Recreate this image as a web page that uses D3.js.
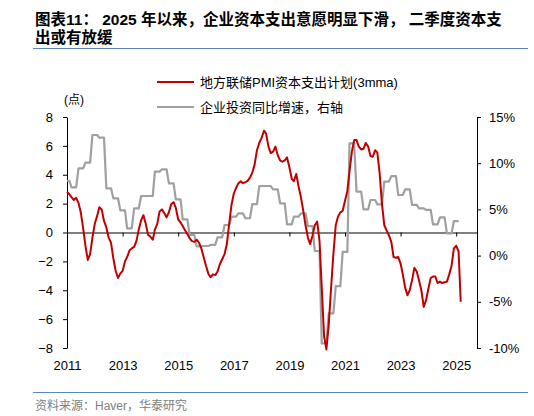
<!DOCTYPE html>
<html>
<head>
<meta charset="utf-8">
<script src="https://cdn.jsdelivr.net/npm/d3@7"></script>
<style>
  body { margin: 0; background: #fff; }
  svg { display: block; font-family: "Liberation Sans", "Noto Sans CJK SC", sans-serif; }
</style>
</head>
<body>
<div id="chart"></div>
<script>
// tick labels
const tickYears  = [2011, 2013, 2015, 2017, 2019, 2021, 2023, 2025];
const leftTicks  = [-8, -6, -4, -2, 0, 2, 4, 6, 8];
const rightTicks = [-10, -5, 0, 5, 10, 15];

// 地方联储PMI资本支出计划(3mma), bulanan 2011-01 .. 2025-03
const capexPlan = [
  2.8, 2.65, 2.45, 2.25, 2.4, 2.05, 1.4, 0.3, -0.95, -1.9, -1.5, -0.35,
  0.6, 1.15, 1.75, 1.6, 0.8, 0.35, -0.35, -0.7, -1.8, -2.65, -3.15, -2.85,
  -2.65, -2.0, -1.7, -1.25, -1.1, -1.0, -0.6, 0.2, 0.85, 1.2, 0.6, -0.15,
  -0.3, -0.5, 0.2, 0.6, 1.45, 1.6, 1.35, 1.05, 1.4, 1.95, 2.1, 1.7,
  0.9, 0.7, 0.45, 0.15, -0.1, -0.4, -0.6, -0.65, -0.5, -0.7, -1.1, -1.7,
  -2.3, -2.85, -3.1, -2.9, -2.95, -2.7, -2.2, -1.85, -1.5, -0.8, 0.6, 1.9,
  2.7, 3.1, 3.4, 3.55, 3.42, 3.48, 3.58, 3.8, 4.15, 4.7, 5.7, 6.2,
  6.55, 7.05, 6.85, 5.95, 5.5, 5.6, 5.95, 5.35, 5.0, 4.9, 5.0, 5.2,
  4.52, 3.72, 3.55, 4.05, 3.2, 2.45, 1.55, 0.5, -0.35, -0.8, -0.2, 0.5,
  0.75, -0.6, -3.8, -7.2, -8.1, -6.4, -3.9, -1.5, 0.5, 1.1, 1.4, 1.5,
  2.2, 2.9, 4.25, 5.6, 6.4, 6.4, 5.95, 5.75, 5.8, 6.2, 5.95, 5.3,
  5.25, 5.7, 5.55, 4.1, 2.0, 0.5, 0.15, -0.2, -0.65, -1.7, -1.75, -1.7,
  -2.15, -2.95, -3.8, -4.35, -4.0, -3.3, -2.45, -2.7, -3.35, -4.0, -5.15, -4.7,
  -3.9, -3.15, -3.05, -3.05, -3.5, -3.4, -3.5, -3.45, -3.4, -2.9, -2.3, -1.1,
  -0.92, -1.3, -4.8
];

// 企业投资同比增速 (%), kuartalan 2011Q1 .. 2025Q1
const investYoY = [
  8.1, 7.39, 9.45, 10.06,
  13.05, 12.76, 7.28, 6.2,
  4.9, 2.95, 5.12, 6.45,
  6.45, 9.08, 9.34, 7.82,
  6.09, 3.93, 2.23, 1.0,
  1.04, 1.15, 1.98, 3.31,
  4.21, 4.58, 4.04, 5.58,
  7.53, 7.53, 7.17, 5.66,
  3.38, 4.21, 4.58, 3.2,
  0.5, -9.5, -6.25, -3.3,
  0.4, 12.15, 6.92, 5.01,
  6.02, 5.55, 8.0, 8.61,
  6.56, 7.17, 5.48, 5.12,
  4.94, 3.38, 4.14, 2.41,
  3.74
];

const redData = capexPlan.map((v, i) => ({ date: new Date(2011, i, 1), v }));

// tiap kuartal digambar datar selama dua bulan
const grayData = investYoY.flatMap((v, q) => [
  { date: new Date(2011, Math.max(0, 3 * q - 1), 1), v },
  { date: new Date(2011, 3 * q + 1, 1), v }
]);

const W = 534, H = 416;
const plotLeft = 67, plotRight = 477, plotTop = 117, plotBottom = 348;

const svg = d3.select("#chart")
  .append("svg")
  .attr("width", W)
  .attr("height", H);

// skala
const x = d3.scaleTime()
  .domain([new Date(2011, 0, 1), new Date(2025, 9, 1)])
  .range([plotLeft, plotRight]);
const yL = d3.scaleLinear().domain([-8, 8]).range([plotBottom, plotTop]);
const yR = d3.scaleLinear().domain([-10, 15]).range([plotBottom, plotTop]);

// judul
const title = svg.append("g")
  .attr("font-weight", "bold")
  .attr("font-size", "15.5px")
  .attr("fill", "#000");
title.append("text").attr("x", 35).attr("y", 25)
  .text("图表11：  2025 年以来，企业资本支出意愿明显下滑，  二季度资本支");
title.append("text").attr("x", 35).attr("y", 43)
  .text("出或有放缓");

// garis pemisah
svg.append("line")
  .attr("x1", 33).attr("x2", 528).attr("y1", 48.5).attr("y2", 48.5)
  .attr("stroke", "#5a86bd").attr("stroke-width", 1);
svg.append("line")
  .attr("x1", 33).attr("x2", 528).attr("y1", 392.5).attr("y2", 392.5)
  .attr("stroke", "#5a86bd").attr("stroke-width", 1);

// legend
const legend = [
  { label: "地方联储PMI资本支出计划(3mma)", color: "#c00000", y: 82 },
  { label: "企业投资同比增速，右轴", color: "#a0a0a0", y: 107 }
];
legend.forEach(d => {
  svg.append("line")
    .attr("x1", 157).attr("x2", 194).attr("y1", d.y).attr("y2", d.y)
    .attr("stroke", d.color).attr("stroke-width", 2);
  svg.append("text")
    .attr("x", 200).attr("y", d.y).attr("dy", "0.36em")
    .attr("font-size", "13px").attr("fill", "#000")
    .text(d.label);
});

// satuan
svg.append("text")
  .attr("x", 74).attr("y", 100).attr("dy", "0.36em")
  .attr("text-anchor", "middle").attr("font-size", "12px")
  .text("(点)");

function styleAxis(g) {
  g.selectAll("text").attr("font-size", "13px").attr("fill", "#000")
    .attr("font-family", "Liberation Sans, sans-serif");
  g.selectAll("line, path").attr("stroke", "#000");
}

// sumbu kiri
svg.append("g")
  .attr("transform", `translate(${plotLeft},0)`)
  .call(d3.axisLeft(yL).tickValues(leftTicks).tickSize(4).tickSizeOuter(0).tickPadding(10))
  .call(styleAxis);

// sumbu kanan
svg.append("g")
  .attr("transform", `translate(${plotRight},0)`)
  .call(d3.axisRight(yR).tickValues(rightTicks).tickSize(4).tickSizeOuter(0).tickPadding(8)
    .tickFormat(d => d + "%"))
  .call(styleAxis);

// garis nol dengan tick tahun
svg.append("g")
  .attr("transform", `translate(0,${yL(0)})`)
  .call(d3.axisBottom(x).tickValues(tickYears.map(y => new Date(y, 0, 1)))
    .tickSize(4).tickSizeOuter(0).tickFormat(""))
  .call(styleAxis);

// label tahun di bawah
svg.append("g")
  .attr("transform", `translate(0,${plotBottom})`)
  .call(d3.axisBottom(x).tickValues(tickYears.map(y => new Date(y, 0, 1)))
    .tickSize(0).tickPadding(13).tickFormat(d3.timeFormat("%Y")))
  .call(styleAxis)
  .call(g => g.select(".domain").remove());

// garis abu-abu (sumbu kanan)
svg.append("path")
  .datum(grayData)
  .attr("fill", "none")
  .attr("stroke", "#a0a0a0")
  .attr("stroke-width", 2.2)
  .attr("stroke-linejoin", "round")
  .attr("d", d3.line().x(d => x(d.date)).y(d => yR(d.v)));

// garis merah (sumbu kiri)
svg.append("path")
  .datum(redData)
  .attr("fill", "none")
  .attr("stroke", "#c00000")
  .attr("stroke-width", 2)
  .attr("stroke-linejoin", "round")
  .attr("d", d3.line().x(d => x(d.date)).y(d => yL(d.v)));

// sumber
svg.append("text")
  .attr("x", 35).attr("y", 410)
  .attr("font-size", "12px").attr("fill", "#808080")
  .text("资料来源：Haver，华泰研究");
</script>
</body>
</html>
